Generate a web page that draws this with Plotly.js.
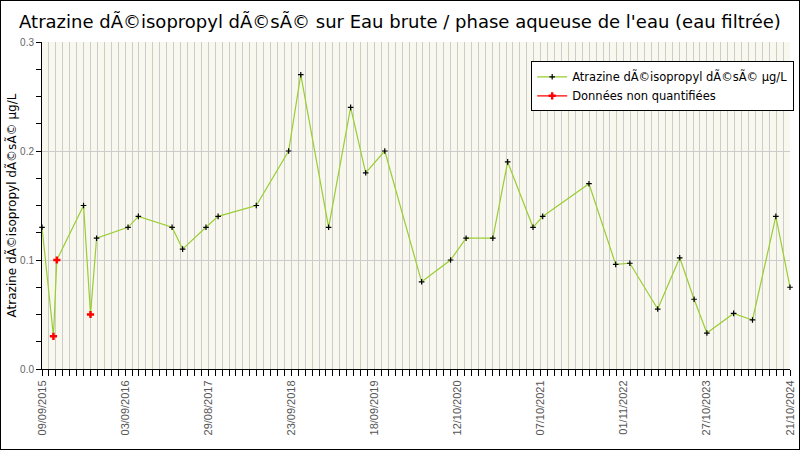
<!DOCTYPE html>
<html>
<head>
<meta charset="utf-8">
<script src="https://cdn.plot.ly/plotly-3.0.1.min.js"></script>
<style>
body { margin: 0; }
#chart { width: 800px; height: 450px; border: 1px solid #000; box-sizing: border-box; }
</style>
</head>
<body>
<div id="chart"></div>
<script>
// measurement dates and values (µg/L)
var dates = ['2015-09-09','2015-10-30','2015-11-14','2016-03-12','2016-04-12','2016-05-09',
  '2016-09-26','2016-11-11','2017-04-10','2017-05-27','2017-09-08','2017-11-01','2018-04-20',
  '2018-09-11','2018-11-04','2019-03-08','2019-06-14','2019-08-20','2019-11-13','2020-04-25',
  '2020-09-01','2020-11-09','2021-03-08','2021-05-13','2021-09-03','2021-10-16','2022-05-10',
  '2022-09-06','2022-11-08','2023-03-12','2023-06-18','2023-08-21','2023-10-17','2024-02-13',
  '2024-05-07','2024-08-19','2024-10-21'];
var values = [0.13,0.03,0.10,0.15,0.05,0.12,0.13,0.14,0.13,0.11,0.13,0.14,0.15,0.20,0.27,0.13,
  0.24,0.18,0.20,0.08,0.10,0.12,0.12,0.19,0.13,0.14,0.17,0.096,0.097,0.055,0.102,0.064,0.033,
  0.051,0.045,0.14,0.075];

// non quantified samples (red)
var nqDates = ['2015-10-30','2015-11-14','2016-04-12'];
var nqValues = [0.03,0.10,0.05];

var tickText = ['09/09/2015','03/09/2016','29/08/2017','23/09/2018','18/09/2019',
  '12/10/2020','07/10/2021','01/11/2022','27/10/2023','21/10/2024'];
var xStart = '2015-09-09', xEnd = '2024-10-21';

var t0 = Date.parse(xStart), t1 = Date.parse(xEnd);
var step = (t1 - t0) / (tickText.length - 1);
var tickVals = tickText.map(function (s, i) { return new Date(t0 + i * step).toISOString(); });

// gaps between red points so only markers are drawn
var nqX = [], nqY = [];
nqDates.forEach(function (d, i) { if (i) { nqX.push(null); nqY.push(null); } nqX.push(d); nqY.push(nqValues[i]); });

var name1 = 'Atrazine dÃ©isopropyl dÃ©sÃ© µg/L';

var traces = [
  { x: dates, y: values, type: 'scatter', mode: 'lines+markers', name: name1, cliponaxis: false,
    line: { color: '#9acd32', width: 1.2 },
    marker: { symbol: 'cross-thin', size: 4, line: { color: '#000', width: 1.2 } } },
  { x: nqX, y: nqY, type: 'scatter', mode: 'lines+markers', name: 'Données non quantifiées',
    connectgaps: false,
    line: { color: '#ff0000', width: 1.2 },
    marker: { symbol: 'cross', size: 6, color: '#ff0000' } }
];

var layout = {
  width: 798, height: 448,
  margin: { l: 41, r: 9, t: 41, b: 80, autoexpand: false },
  paper_bgcolor: '#fff', plot_bgcolor: '#f8f8ef',
  font: { family: 'DejaVu Sans', color: '#000' },
  title: { text: 'Atrazine dÃ©isopropyl dÃ©sÃ© sur Eau brute / phase aqueuse de l\'eau (eau filtrée)',
    font: { size: 18, color: '#000' }, x: 0.5, xanchor: 'center', yref: 'container', y: 0.953, yanchor: 'middle' },
  showlegend: true,
  legend: { x: 0.654, y: 0.941, xanchor: 'left', yanchor: 'top', bgcolor: '#fff',
    bordercolor: '#000', borderwidth: 1, font: { size: 11.5, color: '#000' }, itemwidth: 30, tracegroupgap: 0 },
  xaxis: {
    type: 'date', range: [xStart, xEnd], tickmode: 'array', tickvals: tickVals, ticktext: tickText,
    tickangle: -90, tickfont: { family: 'Liberation Sans', size: 11, color: '#555' }, automargin: false,
    showgrid: true, gridcolor: '#cccccc', zeroline: false,
    showline: true, linecolor: '#000', linewidth: 1,
    ticks: 'outside', ticklen: 6, tickcolor: '#000',
    minor: { tickmode: 'linear', tick0: xStart, dtick: step / 12, showgrid: true, gridcolor: '#cccccc',
      ticks: 'outside', ticklen: 6, tickcolor: '#000' }
  },
  yaxis: {
    range: [0, 0.3], tickmode: 'array', tickvals: [0, 0.1, 0.2, 0.3], ticktext: ['0.0', '0.1', '0.2', '0.3'],
    tickfont: { family: 'Liberation Sans', size: 10, color: '#666' }, automargin: false,
    showgrid: true, gridcolor: '#cccccc', zeroline: false,
    showline: true, linecolor: '#000', linewidth: 1,
    ticks: 'outside', ticklen: 5, tickcolor: '#000',
    minor: { tickmode: 'linear', tick0: 0, dtick: 0.025, ticks: 'outside', ticklen: 5, tickcolor: '#000' },
    title: { text: name1, font: { size: 12, color: '#000' }, standoff: 0 }
  }
};

Plotly.newPlot('chart', traces, layout, { displayModeBar: false, staticPlot: true });
</script>
</body>
</html>
